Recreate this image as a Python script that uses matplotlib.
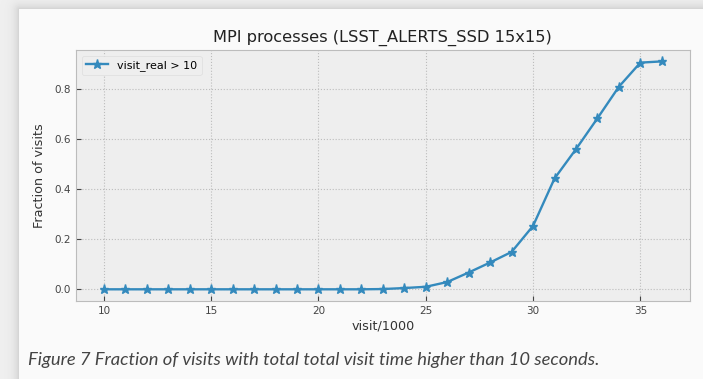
import numpy as np
import matplotlib
matplotlib.use('Agg')
import matplotlib.pyplot as plt

# data
visits = [10, 11, 12, 13, 14, 15, 16, 17, 18, 19, 20, 21, 22, 23, 24, 25, 26, 27, 28,
          29, 30, 31, 32, 33, 34, 35, 36]
fraction = [0.0, 0.0, 0.0, 0.0, 0.0, 0.0, 0.0, 0.0, 0.0, 0.0, 0.0, 0.0, 0.0, 0.001,
            0.005, 0.01, 0.029, 0.067, 0.107, 0.149, 0.253, 0.442, 0.559, 0.682,
            0.808, 0.904, 0.909]
series_label = 'visit_real > 10'
title = 'MPI processes (LSST_ALERTS_SSD 15x15)'
caption = 'Figure 7 Fraction of visits with total total visit time higher than 10 seconds.'

plt.style.use('bmh')

W, H = 703, 379
fig = plt.figure(figsize=(W / 100, H / 100), dpi=100)
fig.patch.set_facecolor('#fafafa')

# page shadow on the left and top edges of the screenshot
bg = fig.add_axes([0, 0, 1, 1], zorder=-10)
xx, yy = np.meshgrid(np.arange(W), np.arange(H))
dx = np.clip(19 - xx, 0, None)
dy = np.clip(9 - yy, 0, None)
d = np.hypot(dx, dy)
shade = np.where(d > 0, 0.94 - 0.13 * np.exp(-d / 5.0), 0.98)
bg.imshow(shade, cmap='gray', vmin=0, vmax=1, aspect='auto', interpolation='bilinear')
bg.axis('off')

ax = fig.add_axes([0.1081, 0.2066, 0.873, 0.6615])
ax.plot(visits, fraction, marker='*', markersize=6.5, linewidth=1.7,
        color='#348ABD', label=series_label)

ax.set_title(title, fontsize=11.7, color='#222222', pad=6)
ax.set_xlabel('visit/1000', fontsize=9.2, color='#333333', labelpad=3)
ax.set_ylabel('Fraction of visits', fontsize=9.2, color='#333333', labelpad=6)
ax.set_xticks([10, 15, 20, 25, 30, 35])
ax.set_yticks([0.0, 0.2, 0.4, 0.6, 0.8])
ax.tick_params(labelsize=7.5, colors='#444444')
ax.grid(True, linestyle=':', color='#bcbcbc', linewidth=0.8)
ax.legend(loc='upper left', fontsize=8, facecolor='#eeeeee', edgecolor='#dddddd',
          framealpha=1.0)

fig.text(0.040, 0.038, caption, fontsize=13.2, style='italic', family='Lato',
         color='#444444')

fig.savefig('out.png', dpi=100, facecolor=fig.get_facecolor())
